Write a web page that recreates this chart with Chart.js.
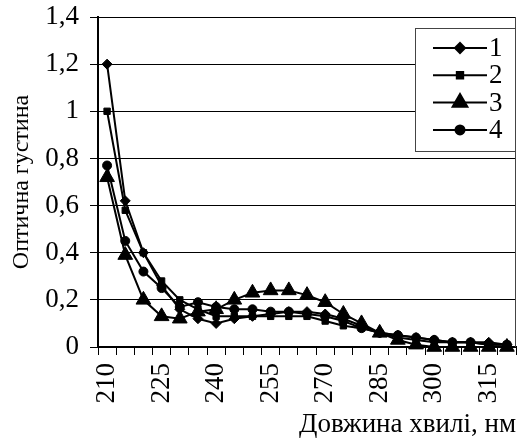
<!DOCTYPE html>
<html>
<head>
<meta charset="utf-8">
<script src="https://cdn.jsdelivr.net/npm/chart.js@4/dist/chart.umd.min.js"></script>
<style>
  html, body { margin: 0; padding: 0; background: #fff; overflow: hidden; }
  #wrap { width: 517px; height: 441px; }
  canvas { display: block; }
</style>
</head>
<body>
<div id="wrap"><canvas id="myChart" width="517" height="441"></canvas></div>
<script>
const hvyli = [210, 215, 220, 225, 230, 235, 240, 245, 250, 255, 260, 265, 270, 275, 280, 285, 290, 295, 300, 305, 310, 315, 320]
const tickLabels = ['210', '225', '240', '255', '270', '285', '300', '315']

const seria1 = [1.20, 0.62, 0.40, 0.26, 0.16, 0.12, 0.10, 0.12, 0.13, 0.14, 0.15, 0.15, 0.14, 0.12, 0.09, 0.06, 0.05, 0.04, 0.03, 0.02, 0.02, 0.02, 0.01]
const seria2 = [1.00, 0.58, 0.40, 0.28, 0.20, 0.16, 0.13, 0.13, 0.13, 0.13, 0.13, 0.13, 0.11, 0.09, 0.08, 0.06, 0.04, 0.03, 0.02, 0.02, 0.02, 0.01, 0.01]
const seria3 = [0.72, 0.39, 0.20, 0.13, 0.12, 0.15, 0.16, 0.20, 0.23, 0.24, 0.24, 0.22, 0.19, 0.14, 0.10, 0.06, 0.03, 0.01, 0.00, 0.00, 0.00, 0.00, 0.00]
const seria4 = [0.77, 0.45, 0.32, 0.25, 0.17, 0.19, 0.17, 0.16, 0.16, 0.15, 0.15, 0.14, 0.13, 0.11, 0.08, 0.06, 0.05, 0.04, 0.03, 0.02, 0.02, 0.01, 0.01]

const nazvy = ['1', '2', '3', '4']
const shryft = 'Liberation Serif, Times New Roman, serif'

function nabir(label, data, style, radius) {
    return {
        label: label,
        data: data,
        borderColor: '#000',
        backgroundColor: '#000',
        borderWidth: 2,
        pointStyle: style,
        pointRadius: radius,
        pointHoverRadius: radius,
        pointBorderWidth: 1,
        tension: 0,
        clip: false
    }
}

function bezVidstupiv(scale) {
    scale.paddingLeft = 0
    scale.paddingRight = 0
    scale.paddingTop = 0
    scale.paddingBottom = 0
}

// legenda vseredyni oblasti grafika
const legendaPlugin = {
    id: 'legendaVseredyni',
    afterDraw(chart) {
        const ctx = chart.ctx
        const area = chart.chartArea
        const x0 = area.right - 101
        const y0 = area.top + 11
        ctx.save()
        ctx.fillStyle = '#fff'
        ctx.fillRect(x0, y0, 100, 123)
        ctx.strokeStyle = '#444'
        ctx.lineWidth = 1
        ctx.strokeRect(x0 + 0.5, y0 + 0.5, 100, 123)
        chart.data.datasets.forEach((ds, i) => {
            const y = y0 + 20 + i * 27.3
            ctx.strokeStyle = '#000'
            ctx.lineWidth = 2
            ctx.beginPath()
            ctx.moveTo(x0 + 18, y)
            ctx.lineTo(x0 + 72, y)
            ctx.stroke()
            ctx.fillStyle = '#000'
            Chart.helpers.drawPoint(ctx, {
                pointStyle: ds.pointStyle,
                radius: ds.pointRadius,
                borderWidth: 1,
                rotation: 0
            }, x0 + 45, y)
            ctx.fill()
            ctx.font = '27px ' + shryft
            ctx.textBaseline = 'middle'
            ctx.textAlign = 'left'
            ctx.fillText(ds.label, x0 + 74, y + 1)
        })
        // prava mezha
        ctx.strokeStyle = '#444'
        ctx.lineWidth = 1
        ctx.beginPath()
        ctx.moveTo(area.right - 0.5, area.top)
        ctx.lineTo(area.right - 0.5, area.bottom)
        ctx.stroke()
        ctx.restore()
    }
}

const config = {
    type: 'line',
    data: {
        labels: hvyli,
        datasets: [
            nabir(nazvy[0], seria1, 'rectRot', 5),
            nabir(nazvy[1], seria2, 'rect', 4.5),
            nabir(nazvy[2], seria3, 'triangle', 8.5),
            nabir(nazvy[3], seria4, 'circle', 4.5)
        ]
    },
    options: {
        responsive: false,
        animation: false,
        layout: { autoPadding: false, padding: { top: 17, right: 1, left: 0, bottom: 0 } },
        plugins: {
            legend: { display: false },
            tooltip: { enabled: false }
        },
        scales: {
            x: {
                type: 'category',
                offset: true,
                afterFit(scale) {
                    scale.height = 94
                    bezVidstupiv(scale)
                },
                grid: {
                    offset: true,
                    drawOnChartArea: false,
                    drawTicks: true,
                    tickLength: 8,
                    color: '#000'
                },
                border: { color: '#000', width: 2 },
                ticks: {
                    autoSkip: false,
                    minRotation: 90,
                    maxRotation: 90,
                    padding: 8,
                    color: '#000',
                    font: { family: shryft, size: 27 },
                    callback(value, index) {
                        const t = String(hvyli[index])
                        return tickLabels.includes(t) ? t : ''
                    }
                },
                title: {
                    display: true,
                    text: 'Довжина хвилі, нм',
                    align: 'end',
                    color: '#000',
                    font: { family: shryft, size: 27 },
                    padding: { top: 0, bottom: 0 }
                }
            },
            y: {
                min: 0,
                max: 1.4,
                afterFit(scale) {
                    scale.width = 98
                    bezVidstupiv(scale)
                },
                ticks: {
                    stepSize: 0.2,
                    padding: 11,
                    color: '#000',
                    font: { family: shryft, size: 27 },
                    callback(value) {
                        return String(Math.round(value * 10) / 10).replace('.', ',')
                    }
                },
                grid: {
                    color: '#000',
                    lineWidth: 1,
                    drawTicks: true,
                    tickLength: 8
                },
                border: { color: '#000', width: 2 },
                title: {
                    display: true,
                    text: 'Оптична густина',
                    color: '#000',
                    font: { family: shryft, size: 24 },
                    padding: { top: 7, bottom: 0 }
                }
            }
        }
    },
    plugins: [legendaPlugin]
}

const chartDOM = document.getElementById('myChart')
new Chart(chartDOM, config)
</script>
</body>
</html>
